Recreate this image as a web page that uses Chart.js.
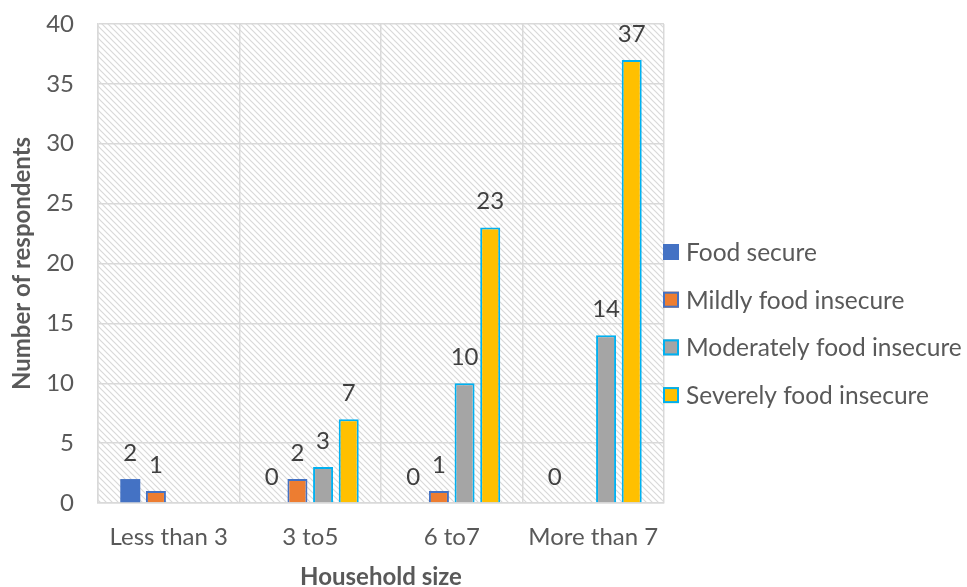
<!DOCTYPE html>
<html>
<head>
<meta charset="utf-8">
<script src="https://cdn.jsdelivr.net/npm/chart.js@4/dist/chart.umd.min.js"></script>
<style>
  html, body { margin: 0; padding: 0; background: #ffffff; }
  #wrap { width: 967px; height: 587px; }
</style>
</head>
<body>
<div id="wrap"><canvas id="chart" width="967" height="587"></canvas></div>
<script>
// Household size vs. food security status (number of respondents)
const categories = ['Less than 3', '3 to5', '6 to7', 'More than 7'];
const seriesNames = ['Food secure', 'Mildly food insecure', 'Moderately food insecure', 'Severely food insecure'];
const foodSecure = [2, 0, 0, 0];
const mildlyInsecure = [1, 2, 1, null];
const moderatelyInsecure = [null, 3, 10, 14];
const severelyInsecure = [null, 7, 23, 37];
const yMin = 0, yMax = 40, yStep = 5;

const FONT = 'Lato, "Open Sans", sans-serif';
const TEXT = '#595959';
const GRID = '#d9d9d9';

// diagonal hatch used as the plot-area background
function makeHatch() {
  const s = 6;
  const c = document.createElement('canvas');
  c.width = s; c.height = s;
  const g = c.getContext('2d');
  g.fillStyle = '#ffffff';
  g.fillRect(0, 0, s, s);
  g.strokeStyle = '#d9d9d9';
  g.lineWidth = 1.2;
  for (const k of [-s, 0, s]) {
    g.beginPath();
    g.moveTo(k - 1, -1);
    g.lineTo(k + s + 1, s + 1);
    g.stroke();
  }
  return g.createPattern(c, 'repeat');
}

const hatchBackground = {
  id: 'hatchBackground',
  beforeDraw(chart) {
    const {ctx, chartArea: a} = chart;
    ctx.save();
    ctx.fillStyle = makeHatch();
    ctx.fillRect(a.left, a.top, a.right - a.left, a.bottom - a.top);
    ctx.restore();
  }
};

// value labels above each bar
const valueLabels = {
  id: 'valueLabels',
  afterDatasetsDraw(chart, args, opts) {
    const {ctx} = chart;
    ctx.save();
    ctx.font = opts.font;
    ctx.fillStyle = opts.color;
    ctx.textAlign = 'center';
    ctx.textBaseline = 'middle';
    chart.data.datasets.forEach((ds, i) => {
      const meta = chart.getDatasetMeta(i);
      meta.data.forEach((el, j) => {
        const v = ds.data[j];
        if (v === null || v === undefined) return;
        ctx.fillText(String(v), el.x, el.y - opts.offset);
      });
    });
    ctx.restore();
  }
};

// legend drawn at the right of the plot area
const sideLegend = {
  id: 'sideLegend',
  afterDraw(chart, args, opts) {
    const {ctx, chartArea: a} = chart;
    ctx.save();
    ctx.font = opts.font;
    ctx.textBaseline = 'middle';
    ctx.textAlign = 'left';
    chart.data.datasets.forEach((ds, i) => {
      const cy = opts.top + i * opts.spacing;
      const x = a.right + opts.gap;
      const b = opts.box;
      ctx.fillStyle = ds.backgroundColor;
      ctx.fillRect(x, cy - b / 2, b, b);
      if (ds.legendBorder) {
        ctx.strokeStyle = ds.legendBorder;
        ctx.lineWidth = 2;
        ctx.strokeRect(x + 1, cy - b / 2 + 1, b - 2, b - 2);
      }
      ctx.fillStyle = opts.color;
      ctx.fillText(ds.label, x + b + opts.textGap, cy + 1);
    });
    ctx.restore();
  }
};

const barCommon = { categoryPercentage: 0.725, barPercentage: 0.78, borderSkipped: 'start' };

new Chart(document.getElementById('chart'), {
  type: 'bar',
  data: {
    labels: categories,
    datasets: [
      Object.assign({ label: seriesNames[0], data: foodSecure, backgroundColor: '#4472c4', borderWidth: 0 }, barCommon),
      Object.assign({ label: seriesNames[1], data: mildlyInsecure, backgroundColor: '#ed7d31', borderColor: '#4472c4', borderWidth: 2, legendBorder: '#4472c4' }, barCommon),
      Object.assign({ label: seriesNames[2], data: moderatelyInsecure, backgroundColor: '#a5a5a5', borderColor: '#00b0f0', borderWidth: 2, legendBorder: '#00b0f0' }, barCommon),
      Object.assign({ label: seriesNames[3], data: severelyInsecure, backgroundColor: '#ffc000', borderColor: '#00b0f0', borderWidth: 2, legendBorder: '#00b0f0' }, barCommon)
    ]
  },
  options: {
    responsive: false,
    animation: false,
    devicePixelRatio: 1,
    layout: { padding: { left: 0, right: 303, top: 24, bottom: 0 } },
    plugins: {
      legend: { display: false },
      tooltip: { enabled: false },
      valueLabels: { font: '24px ' + FONT, color: '#404040', offset: 26 },
      sideLegend: { font: '24.5px ' + FONT, color: TEXT, top: 252, spacing: 47.7, gap: -1, box: 16, textGap: 7 }
    },
    scales: {
      x: {
        grid: { display: true, color: GRID, lineWidth: 1.5, drawTicks: false, offset: true },
        border: { display: true, color: GRID, width: 1.5 },
        ticks: { color: TEXT, font: { family: FONT, size: 24 }, padding: 20, maxRotation: 0 },
        title: { display: true, text: 'Household size', color: TEXT, font: { family: FONT, size: 24, weight: 'bold', lineHeight: 1 }, padding: { top: 0, bottom: -2 } },
        afterFit(scale) { scale.height = 84; }
      },
      y: {
        min: yMin, max: yMax,
        grid: { color: GRID, lineWidth: 1.5, drawTicks: false },
        border: { display: true, color: GRID, width: 1.5 },
        ticks: { stepSize: yStep, color: TEXT, font: { family: FONT, size: 24 }, padding: 24 },
        title: { display: true, text: 'Number of respondents', color: TEXT, font: { family: FONT, size: 24, weight: 'bold' }, padding: { top: 8, bottom: 0 } },
        afterFit(scale) {
          scale.width = 98;
          scale.paddingTop = 0;
          scale.paddingBottom = 0;
        }
      }
    }
  },
  plugins: [hatchBackground, valueLabels, sideLegend]
});
</script>
</body>
</html>
